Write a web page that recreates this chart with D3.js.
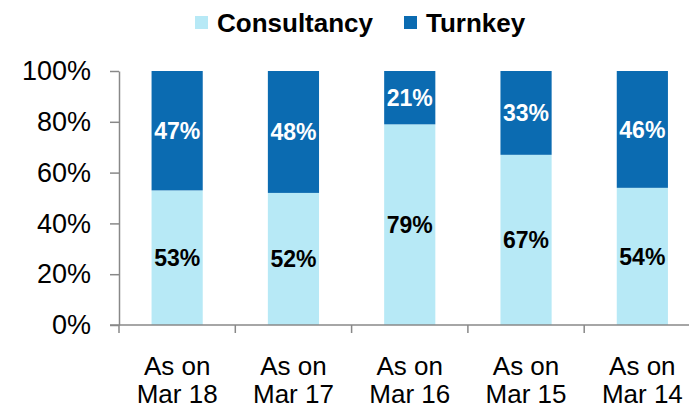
<!DOCTYPE html>
<html>
<head>
<meta charset="utf-8">
<script src="https://cdn.jsdelivr.net/npm/d3@7"></script>
<style>
  body { margin: 0; background: #fff; }
  svg { display: block; font-family: Arial, "Liberation Sans", sans-serif; }
</style>
</head>
<body>
<svg width="689" height="405"></svg>
<script>
// chart data
var categories = ["As on Mar 18", "As on Mar 17", "As on Mar 16", "As on Mar 15", "As on Mar 14"];
var consultancy = [53, 52, 79, 67, 54];
var turnkey = [47, 48, 21, 33, 46];
var yTicks = [0, 20, 40, 60, 80, 100];
var seriesNames = ["Consultancy", "Turnkey"];
var colors = ["#b7e9f6", "#0b6bb1"];

var svg = d3.select("svg"),
    width = +svg.attr("width"),
    height = +svg.attr("height");

// plot edges (note: "top" is reserved on window, so use plotTop)
var plotLeft = 119, plotRight = 700.5, plotTop = 71, plotBottom = 325;

var x = d3.scaleBand()
    .domain(categories)
    .range([plotLeft, plotRight])
    .paddingInner(0.56)
    .paddingOuter(0.28);

var y = d3.scaleLinear()
    .domain([0, 100])
    .range([plotBottom, plotTop]);

var rows = categories.map(function(c, i) {
  return { cat: c, Consultancy: consultancy[i], Turnkey: turnkey[i] };
});

var stack = d3.stack().keys(seriesNames)(rows);

// bars
var layers = svg.append("g").selectAll("g")
  .data(stack)
  .enter().append("g")
    .attr("fill", function(d, i) { return colors[i]; });

layers.selectAll("rect")
  .data(function(d) { return d; })
  .enter().append("rect")
    .attr("x", function(d) { return x(d.data.cat); })
    .attr("y", function(d) { return y(d[1]); })
    .attr("width", x.bandwidth())
    .attr("height", function(d) { return y(d[0]) - y(d[1]); });

// bar value labels
layers.selectAll("text")
  .data(function(d, i) { return d.map(function(v) { v.si = i; return v; }); })
  .enter().append("text")
    .attr("x", function(d) { return x(d.data.cat) + x.bandwidth() / 2; })
    .attr("y", function(d) { return (y(d[0]) + y(d[1])) / 2; })
    .attr("dy", "0.36em")
    .attr("text-anchor", "middle")
    .attr("font-size", 23)
    .attr("font-weight", "bold")
    .attr("fill", function(d) { return d.si === 0 ? "#000" : "#fff"; })
    .text(function(d) { return (d[1] - d[0]) + "%"; });

// y axis
var yAxis = svg.append("g")
    .attr("transform", "translate(" + plotLeft + ",0)")
    .call(d3.axisLeft(y)
      .tickValues(yTicks)
      .tickSize(9)
      .tickSizeOuter(0)
      .tickPadding(19)
      .tickFormat(function(d) { return d + "%"; }));
yAxis.selectAll("line, path").attr("stroke", "#888").attr("stroke-width", 1.5);
yAxis.selectAll("text")
    .attr("font-size", 27)
    .attr("fill", "#000")
    .attr("font-family", "Arial, 'Liberation Sans', sans-serif");

// x axis line and category separators
svg.append("line")
    .attr("x1", plotLeft - 9).attr("x2", width)
    .attr("y1", plotBottom).attr("y2", plotBottom)
    .attr("stroke", "#888").attr("stroke-width", 1.5);

svg.append("g").selectAll("line")
  .data(categories)
  .enter().append("line")
    .attr("x1", function(d) { return x(d) - x.step() * x.paddingInner() / 2; })
    .attr("x2", function(d) { return x(d) - x.step() * x.paddingInner() / 2; })
    .attr("y1", plotBottom).attr("y2", plotBottom + 8)
    .attr("stroke", "#888").attr("stroke-width", 1.5);

// x labels (two lines)
var xl = svg.append("g").selectAll("text")
  .data(categories)
  .enter().append("text")
    .attr("text-anchor", "middle")
    .attr("font-size", 26)
    .attr("fill", "#000");
xl.append("tspan")
    .attr("x", function(d) { return x(d) + x.bandwidth() / 2; })
    .attr("y", 375)
    .text(function(d) { return d.slice(0, 5); });
xl.append("tspan")
    .attr("x", function(d) { return x(d) + x.bandwidth() / 2; })
    .attr("y", 403)
    .text(function(d) { return d.slice(6); });

// legend
var legendX = [195, 404];
var legend = svg.append("g").selectAll("g")
  .data(seriesNames)
  .enter().append("g")
    .attr("transform", function(d, i) { return "translate(" + legendX[i] + ",0)"; });
legend.append("rect")
    .attr("y", 16).attr("width", 13).attr("height", 13)
    .attr("fill", function(d, i) { return colors[i]; });
legend.append("text")
    .attr("x", 22).attr("y", 32)
    .attr("font-size", 26)
    .attr("font-weight", "bold")
    .attr("fill", "#000")
    .text(function(d) { return d; });
</script>
</body>
</html>
